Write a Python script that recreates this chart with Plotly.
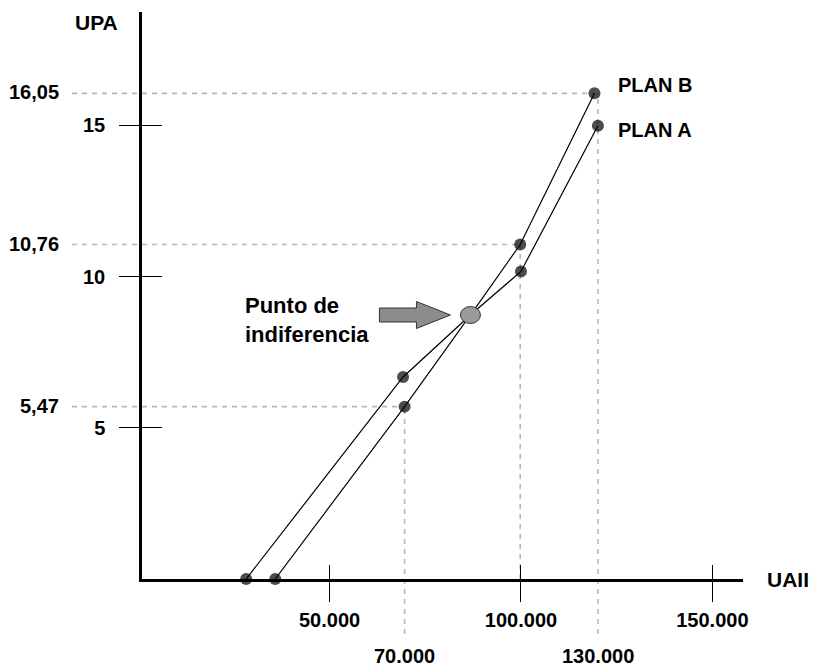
import plotly.graph_objects as go

# ---------------- data (in axis units) ----------------
uaii_plan_b = [28200, 69200, 86800, 99800, 119200]
upa_plan_b = [0, 6.68, 8.73, 11.06, 16.06]
uaii_plan_a = [35800, 69600, 86800, 100000, 120100]
upa_plan_a = [0, 5.70, 8.73, 10.17, 14.99]
indiff_uaii = 86800
indiff_upa = 8.73

x_tick_vals = [50000, 100000, 150000]
x_tick_text = ["50.000", "100.000", "150.000"]
y_tick_vals = [5, 10, 15]
y_tick_text = ["5", "10", "15"]

h_guide_labels = ["16,05", "10,76", "5,47"]
v_guide_labels = ["70.000", "", "130.000"]

# ---------------- layout geometry ----------------
# the page body has an 8px margin, so the figure is 8px smaller than the window
BODY = 8
W, H = 823 - BODY, 669 - BODY
PLOT_L, PLOT_R, PLOT_T, PLOT_B = 142, 743, 12, 579   # window pixels
ML, MT = PLOT_L - BODY, PLOT_T - BODY
PW, PH = PLOT_R - PLOT_L, PLOT_B - PLOT_T
MR, MB = W - ML - PW, H - MT - PH
X_RANGE = [1000, 158000]
Y_RANGE = [0, 18.75]
FONT = "Liberation Sans, Arial, sans-serif"
GUIDE = dict(color="#b8b8b8", width=1.6, dash="5px,5px")
TXT = 20


def xp(v):
    return (v - X_RANGE[0]) / (X_RANGE[1] - X_RANGE[0])


def yp(v):
    return (v - Y_RANGE[0]) / (Y_RANGE[1] - Y_RANGE[0])


def px_to_xpaper(px):
    return (px - PLOT_L) / PW


def px_to_ypaper(py):
    return (PLOT_B - py) / PH


fig = go.Figure()

for xs, ys in ((uaii_plan_b, upa_plan_b), (uaii_plan_a, upa_plan_a)):
    fig.add_trace(go.Scatter(
        x=xs, y=ys, mode="lines+markers", cliponaxis=False,
        line=dict(color="black", width=1.2),
        marker=dict(color="black", size=[12, 12, 0, 12, 12],
                    line=dict(width=0)),
        showlegend=False, hoverinfo="skip"))
# empty traces so the overlay axes (inner half of the crossing ticks) exist
fig.add_trace(go.Scatter(x=[], y=[], xaxis="x2", yaxis="y", showlegend=False))
fig.add_trace(go.Scatter(x=[], y=[], xaxis="x", yaxis="y2", showlegend=False))

shapes = []
annotations = []

# horizontal guides
h_guides = [(upa_plan_b[4], uaii_plan_b[4]),
            (upa_plan_b[3], uaii_plan_b[3]),
            (upa_plan_a[1], uaii_plan_a[1])]
for (yv, xe), lab in zip(h_guides, h_guide_labels):
    shapes.append(dict(type="line", xref="paper", yref="y",
                       x0=px_to_xpaper(72), x1=xp(xe), y0=yv, y1=yv,
                       line=GUIDE, layer="below"))
    annotations.append(dict(text="<b>%s</b>" % lab, xref="paper", yref="y",
                            x=px_to_xpaper(61), y=yv, xanchor="right",
                            yanchor="middle", showarrow=False, yshift=1,
                            font=dict(family=FONT, size=TXT, color="black")))

# vertical guides
v_guides = [(uaii_plan_a[1], upa_plan_a[1]),
            (uaii_plan_b[3], upa_plan_b[3]),
            (uaii_plan_a[4], upa_plan_b[4])]
for (xv, yt), lab in zip(v_guides, v_guide_labels):
    y0 = px_to_ypaper(634) if lab else 0
    shapes.append(dict(type="line", xref="x", yref="paper",
                       x0=xv, x1=xv, y0=y0, y1=yp(yt),
                       line=GUIDE, layer="below"))
    if lab:
        annotations.append(dict(text="<b>%s</b>" % lab, xref="x", yref="paper",
                                x=xv, y=px_to_ypaper(656), xanchor="center",
                                yanchor="middle", showarrow=False,
                                font=dict(family=FONT, size=TXT, color="black")))

# indifference point marker (ellipse) and block arrow
shapes.append(dict(type="circle", xref="x", yref="y",
                   xsizemode="pixel", ysizemode="pixel",
                   xanchor=indiff_uaii, yanchor=indiff_upa,
                   x0=-10, x1=10, y0=-8.5, y1=8.5,
                   fillcolor="#9a9a9a", line=dict(color="#333333", width=1)))
shapes.append(dict(type="path", xref="x", yref="y",
                   xsizemode="pixel", ysizemode="pixel",
                   xanchor=indiff_uaii, yanchor=indiff_upa,
                   path="M -91,7 L -54,7 L -54,13.5 L -20,0 L -54,-13.5 L -54,-7 L -91,-7 Z",
                   fillcolor="#8c8c8c", line=dict(color="#333333", width=1)))

annotations += [
    dict(text="<b>Punto de<br>indiferencia</b>", xref="x", yref="y",
         x=indiff_uaii, y=indiff_upa, xanchor="left", yanchor="middle",
         xshift=-227, yshift=-5, align="left", showarrow=False,
         font=dict(family=FONT, size=22, color="black")),
    dict(text="<b>PLAN B</b>", xref="x", yref="y",
         x=uaii_plan_b[4], y=upa_plan_b[4], xanchor="left", yanchor="middle",
         xshift=22, yshift=8, showarrow=False,
         font=dict(family=FONT, size=TXT, color="black")),
    dict(text="<b>PLAN A</b>", xref="x", yref="y",
         x=uaii_plan_a[4], y=upa_plan_a[4], xanchor="left", yanchor="middle",
         xshift=18, yshift=-4, showarrow=False,
         font=dict(family=FONT, size=TXT, color="black")),
    dict(text="<b>UPA</b>", xref="paper", yref="paper",
         x=px_to_xpaper(96), y=px_to_ypaper(22), xanchor="center",
         yanchor="middle", showarrow=False,
         font=dict(family=FONT, size=21, color="black")),
    dict(text="<b>UAII</b>", xref="paper", yref="paper",
         x=px_to_xpaper(765), y=0, xanchor="left",
         yanchor="middle", showarrow=False,
         font=dict(family=FONT, size=21, color="black")),
]

tickfont = dict(family=FONT, size=TXT, color="black", weight="bold")

fig.update_layout(
    width=W, height=H,
    margin=dict(l=ML, r=MR, t=MT, b=MB, pad=0),
    plot_bgcolor="white", paper_bgcolor="white",
    showlegend=False,
    shapes=shapes, annotations=annotations,
    xaxis=dict(range=X_RANGE, showgrid=False, zeroline=False,
               showline=True, linecolor="black", linewidth=2.5,
               tickvals=x_tick_vals, ticktext=x_tick_text,
               ticks="outside", ticklen=20, tickwidth=1.3, tickcolor="black",
               tickfont=tickfont, ticklabelstandoff=1),
    xaxis2=dict(range=X_RANGE, overlaying="x", anchor="y", side="bottom",
                showgrid=False, zeroline=False, showline=False,
                tickvals=x_tick_vals, ticks="inside", ticklen=14,
                tickwidth=1.3, tickcolor="black", showticklabels=False),
    yaxis=dict(range=Y_RANGE, showgrid=False, zeroline=False,
               showline=True, linecolor="black", linewidth=2.5,
               tickvals=y_tick_vals, ticktext=y_tick_text,
               ticks="outside", ticklen=20, tickwidth=1.3, tickcolor="black",
               tickfont=tickfont, ticklabelstandoff=10),
    yaxis2=dict(range=Y_RANGE, overlaying="y", anchor="x", side="left",
                showgrid=False, zeroline=False, showline=False,
                tickvals=y_tick_vals, ticks="inside", ticklen=20,
                tickwidth=1.3, tickcolor="black", showticklabels=False),
)

fig.write_html("out.html")
